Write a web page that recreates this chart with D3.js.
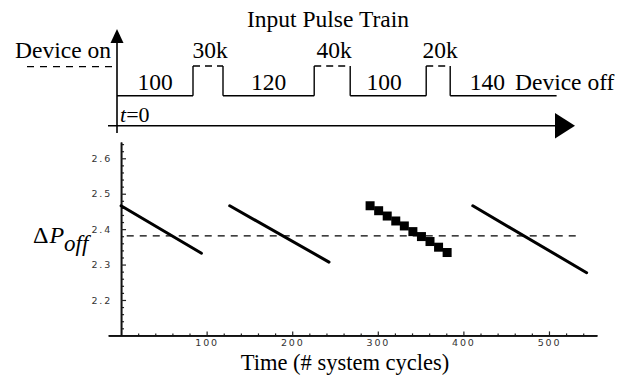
<!DOCTYPE html>
<html><head><meta charset="utf-8">
<script src="https://cdn.jsdelivr.net/npm/d3@7"></script>
<style>body{margin:0;background:#fff} svg{display:block}</style>
</head><body>
<script>
// ---------------- data ----------------
const pulseOn = [100, 120, 100, 140];           // on-pulse lengths (cycles)
const pulseGapK = [30, 40, 20];                 // off gaps (k cycles)
const pulseGapLabels = ["30k", "40k", "20k"];

const xTickLabels = [100, 200, 300, 400, 500];
const yTickLabels = [2.2, 2.3, 2.4, 2.5, 2.6];

const seg1X = [0, 94];
const seg1Y = [2.466, 2.332];
const seg2X = [127, 243];
const seg2Y = [2.466, 2.307];
const seg3X = [291, 301, 311, 321, 331, 341, 351, 361, 371, 381];
const seg3Y = [2.466, 2.452, 2.437, 2.423, 2.409, 2.393, 2.379, 2.365, 2.349, 2.334];
const seg4X = [411, 544];
const seg4Y = [2.466, 2.277];
const threshold = 2.381;
const thresholdX = [0, 534];

// ---------------- drawing ----------------
const W = 639, H = 375;
const svg = d3.select("body").append("svg").attr("width", W).attr("height", H);
const serif = "'Liberation Serif','Times New Roman',serif";
const sans = "'DejaVu Sans',sans-serif";

// --- top pulse diagram ---
const topG = svg.append("g");
const onScale = d3.scaleLinear().domain([0, 100]).range([0, 76]);
const gapScale = d3.scaleLinear().domain([20, 40]).range([24, 36]);
const hiY = 66, loY = 95.7, axX = 117;

let cur = axX;
const pulses = [];
pulseOn.forEach((d, i) => {
  const s = cur, e = cur + onScale(d);
  pulses.push({s, e, v: d});
  cur = e;
  if (i < pulseGapK.length) { pulses[i].gapEnd = e + gapScale(pulseGapK[i]); cur = pulses[i].gapEnd; }
});
const numShift = [0, 0, -4, -16];

topG.append("text").attr("x", 328).attr("y", 27).attr("text-anchor", "middle")
  .attr("font-family", serif).attr("font-size", 23.5).text("Input Pulse Train");
topG.append("text").attr("x", 111).attr("y", 58).attr("text-anchor", "end")
  .attr("font-family", serif).attr("font-size", 23.5).text("Device on");
topG.append("line").attr("x1", 27).attr("x2", 113).attr("y1", 66.7).attr("y2", 66.7)
  .attr("stroke", "#000").attr("stroke-width", 1.2).attr("stroke-dasharray", "7,6");

pulses.forEach((p, i) => {
  topG.append("line").attr("x1", p.s).attr("x2", p.e).attr("y1", loY).attr("y2", loY)
    .attr("stroke", "#000").attr("stroke-width", 1.4);
  topG.append("text").attr("x", (p.s + p.e) / 2 + numShift[i]).attr("y", 90)
    .attr("text-anchor", "middle").attr("font-family", serif).attr("font-size", 23.5).text(p.v);
  if (p.gapEnd !== undefined) {
    topG.append("line").attr("x1", p.e).attr("x2", p.e).attr("y1", loY).attr("y2", hiY)
      .attr("stroke", "#000").attr("stroke-width", 1.4);
    topG.append("line").attr("x1", p.gapEnd).attr("x2", p.gapEnd).attr("y1", hiY).attr("y2", loY)
      .attr("stroke", "#000").attr("stroke-width", 1.4);
    topG.append("line").attr("x1", p.e).attr("x2", p.gapEnd).attr("y1", hiY).attr("y2", hiY)
      .attr("stroke", "#000").attr("stroke-width", 1.4).attr("stroke-dasharray", "7,5");
    topG.append("text").attr("x", (p.e + p.gapEnd) / 2 + 2).attr("y", 58).attr("text-anchor", "middle")
      .attr("font-family", serif).attr("font-size", 23.5).text(pulseGapLabels[i]);
  }
});
topG.append("text").attr("x", 515).attr("y", 90).attr("font-family", serif).attr("font-size", 23.5).text("Device off");

// axes arrows
topG.append("line").attr("x1", axX).attr("x2", axX).attr("y1", 42).attr("y2", 133)
  .attr("stroke", "#000").attr("stroke-width", 1.6);
topG.append("path").attr("d", `M${axX},29 L${axX - 6.5},43 L${axX + 6.5},43 Z`).attr("fill", "#000");
topG.append("line").attr("x1", 108).attr("x2", 556).attr("y1", 125.7).attr("y2", 125.7)
  .attr("stroke", "#000").attr("stroke-width", 1.6);
topG.append("path").attr("d", `M575,125.7 L555,113 L555,138.4 Z`).attr("fill", "#000");
const t0 = topG.append("text").attr("x", 120).attr("y", 121.5).attr("font-family", serif).attr("font-size", 22);
t0.append("tspan").attr("font-style", "italic").text("t");
t0.append("tspan").text("=0");

// --- bottom plot ---
const x = d3.scaleLinear().domain([-15, 556]).range([108.2, 596.9]);
const y = d3.scaleLinear().domain([2.1, 2.646]).range([335.4, 142.0]);
const plot = svg.append("g");

// minor ticks
const xMinor = d3.range(20, 560, 20).filter(v => v % 100 !== 0);
const yMinor = d3.range(2.12, 2.645, 0.02).filter(v => Math.abs(v * 10 - Math.round(v * 10)) > 1e-6);

const gx = plot.append("g").attr("transform", `translate(0,${y(2.1)})`);
gx.call(d3.axisBottom(x).tickValues(xMinor).tickSize(-2).tickSizeOuter(0).tickFormat(""));
const gx2 = plot.append("g").attr("transform", `translate(0,${y(2.1)})`);
gx2.call(d3.axisBottom(x).tickValues(xTickLabels).tickSize(-4).tickSizeOuter(0).tickPadding(4).tickFormat(d3.format("d")));

const gy = plot.append("g").attr("transform", `translate(${x(0)},0)`);
gy.call(d3.axisLeft(y).tickValues(yMinor).tickSize(-3).tickSizeOuter(0).tickFormat(""));
const gy2 = plot.append("g").attr("transform", `translate(${x(0)},0)`);
gy2.call(d3.axisLeft(y).tickValues(yTickLabels).tickSize(-5).tickSizeOuter(0).tickPadding(9).tickFormat(d3.format(".1f")));

[gx, gx2, gy, gy2].forEach(g => {
  g.selectAll(".domain").attr("stroke", "#111").attr("stroke-width", 1.6);
  g.selectAll(".tick line").attr("stroke", "#222").attr("stroke-width", 1.2);
  g.selectAll("text").attr("font-family", sans).attr("font-size", 9.5).attr("fill", "#333")
    .attr("letter-spacing", "1.8px");
});
gx2.selectAll("text").attr("dy", "0.71em");

// threshold dashed line
plot.append("line").attr("x1", x(thresholdX[0])).attr("x2", x(thresholdX[1]))
  .attr("y1", y(threshold)).attr("y2", y(threshold))
  .attr("stroke", "#000").attr("stroke-width", 1.2)
  .attr("stroke-dasharray", "7,6").attr("stroke-dashoffset", 7.3);

const line = d3.line().x(d => x(d[0])).y(d => y(d[1]));
[[seg1X, seg1Y], [seg2X, seg2Y], [seg4X, seg4Y]].forEach(([xs, ys]) => {
  plot.append("path").datum(d3.zip(xs, ys)).attr("d", line)
    .attr("fill", "none").attr("stroke", "#000").attr("stroke-width", 3).attr("stroke-linecap", "round");
});
plot.selectAll("rect.sq").data(d3.zip(seg3X, seg3Y)).join("rect").attr("class", "sq")
  .attr("x", d => x(d[0]) - 4.5).attr("y", d => y(d[1]) - 4.5)
  .attr("width", 9).attr("height", 9).attr("fill", "#000");

// y label  ΔP_off
const yl = plot.append("text").attr("x", 33).attr("y", 243).attr("font-family", serif).attr("font-size", 24);
yl.append("tspan").text("Δ");
yl.append("tspan").attr("font-style", "italic").attr("dx", 1).text("P");
yl.append("tspan").attr("font-style", "italic").attr("font-size", 23).attr("dy", 8).text("off");

// x title
plot.append("text").attr("x", 345).attr("y", 369.5).attr("text-anchor", "middle")
  .attr("font-family", serif).attr("font-size", 22.5).text("Time (# system cycles)");
</script>
</body></html>
